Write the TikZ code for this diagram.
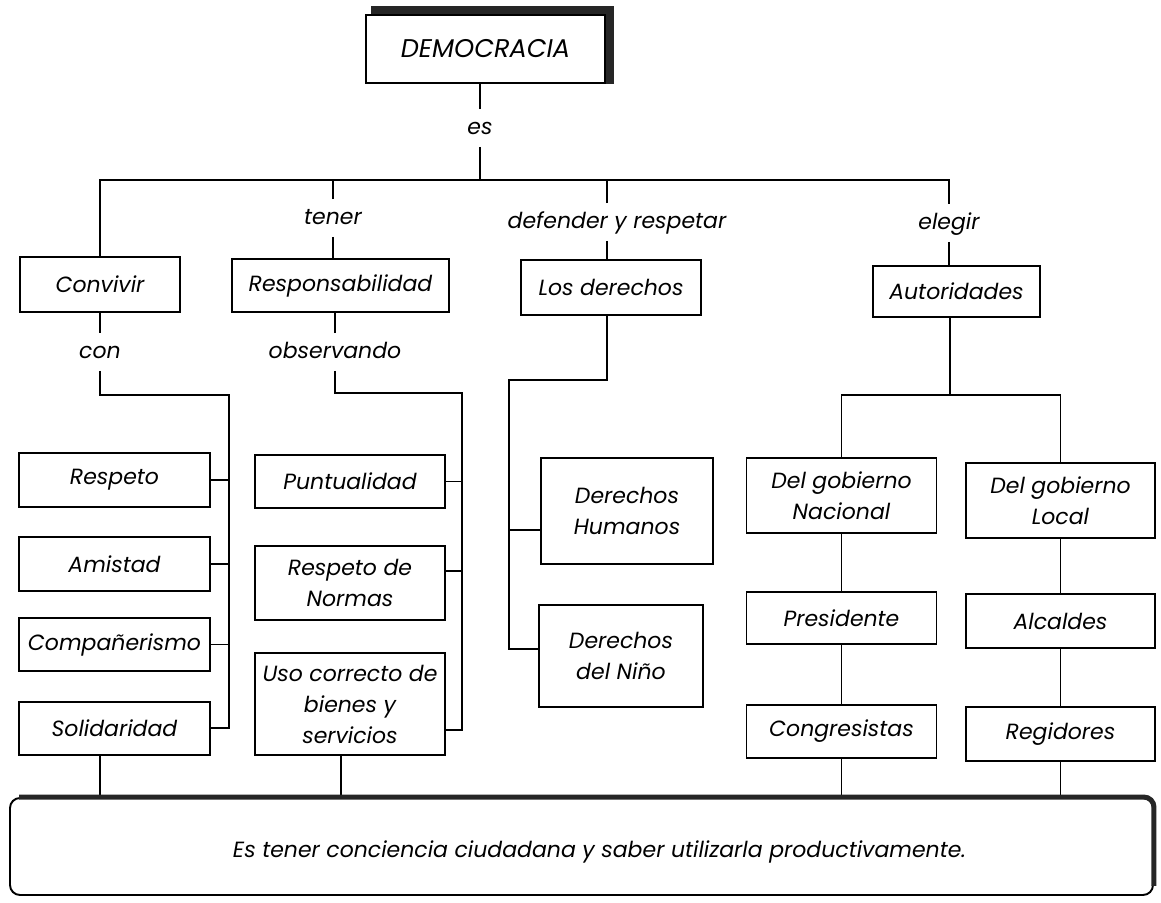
\documentclass[tikz,border=0pt]{standalone}
\usepackage{fontspec}
\setmainfont{Poppins}
\usetikzlibrary{calc}
\tikzset{%
  box/.style       = {shape=rectangle, draw, align=center,%
                      inner sep=2pt},%
  lbl/.style       = {inner sep=3.5pt, text height=1.6ex, text depth=.4ex},%
  thickedge/.style = {line width=4pt, black!85}%
}

\begin{document}
\begin{tikzpicture}[x=0.5pt,y=-0.5pt,
	every node/.style={font=\itshape\fontsize{11}{15.5}\selectfont},
	every path/.style={line width=0.95pt}]%
	\useasboundingbox (0,0) rectangle (1161,903);%
	% top and first row
	\node[box, minimum width=119.5pt, minimum height=34pt, font=\itshape\fontsize{12.8}{15}\selectfont] (demo) at (485.5,49) {DEMOCRACIA};%
	\node[lbl] (es) at (480,128) {es};%
	\coordinate (bar) at (480,180);%
	\node[lbl] (tener)  at (333,218) {tener};%
	\node[lbl] (defres) at (617,222) {defender y respetar};%
	\node[lbl] (elegir) at (949,223) {elegir};%
	\node[box, minimum width=80pt,   minimum height=27.5pt] (conv)   at (100,284.5)   {Convivir};%
	\node[box, minimum width=108.5pt,minimum height=26.5pt] (resp)   at (340.5,285.5) {Responsabilidad};%
	\node[box, minimum width=90pt,   minimum height=27.5pt] (losder) at (611,287.5)   {Los derechos};%
	\node[box, minimum width=83.5pt, minimum height=25.5pt] (autor)  at (956.5,291.5) {Autoridades};%
	\node[lbl] (con) at (100,352) {con};%
	\node[lbl] (obs) at (335,352) {observando};%
	% left column
	\node[box, minimum width=95.5pt, minimum height=27pt]   (respeto) at (114.5,480)   {Respeto};%
	\node[box, minimum width=95.5pt, minimum height=27pt]   (amistad) at (114.5,564)   {Amistad};%
	\node[box, minimum width=95.5pt, minimum height=26.5pt] (compa)   at (114.5,644.5) {Compañerismo};%
	\node[box, minimum width=95.5pt, minimum height=26.5pt] (solid)   at (114.5,728.5) {Solidaridad};%
	% second column
	\node[box, minimum width=95pt, minimum height=26.5pt] (puntual) at (350,481.5) {Puntualidad};%
	\node[box, minimum width=95pt, minimum height=37pt]   (normas)  at (350,583)   {Respeto de\\Normas};%
	\node[box, minimum width=95pt, minimum height=51pt]   (uso)     at (350,704)   {Uso correcto de\\bienes y\\servicios};%
	% rights
	\node[box, minimum width=86pt, minimum height=53pt] (dhum)  at (627,511) {Derechos\\Humanos};%
	\node[box, minimum width=82pt, minimum height=51pt] (dnino) at (621,656) {Derechos\\del Niño};%
	% authorities
	\node[box, minimum width=95pt,   minimum height=37.5pt] (nac)   at (841.5,495.5)  {Del gobierno\\Nacional};%
	\node[box, minimum width=94.5pt, minimum height=37.5pt] (local) at (1060.5,500.5) {Del gobierno\\Local};%
	\node[box, minimum width=95pt,   minimum height=26pt]   (pres)  at (841.5,618)    {Presidente};%
	\node[box, minimum width=94.5pt, minimum height=27pt]   (alcal) at (1060.5,621)   {Alcaldes};%
	\node[box, minimum width=95pt,   minimum height=26.5pt] (congr) at (841.5,731.5)  {Congresistas};%
	\node[box, minimum width=94.5pt, minimum height=27pt]   (regid) at (1060.5,734)   {Regidores};%
	% bottom
	\node[box, rounded corners=5pt, minimum width=571.5pt, minimum height=48.5pt] (final) at (581.5,846.5)%
		{\rule{0pt}{14pt}\hspace*{18pt}Es tener conciencia ciudadana y saber utilizarla productivamente.};%
	% bus points
	\coordinate (cbus) at (229,395);%
	\coordinate (cend) at (229,728);%
	\coordinate (rbus) at (462,393);%
	\coordinate (rend) at (462,730);%
	\coordinate (dbus) at (509,380);%
	\coordinate (dmid) at (509,530);%
	\coordinate (dend) at (509,649);%
	\coordinate (abus) at (950,395);%
	% links
	\draw (es.north) -- (es.north |- demo.south);%
	\draw (es.south) -- (bar);%
	\draw (conv.north) |- (bar) -| (elegir.north);%
	\draw (tener.north) -- (tener.north |- bar);%
	\draw (tener.south) -- (tener.south |- resp.north);%
	\draw ([xshift=-5pt]defres.north) -- ([xshift=-5pt]defres.north |- bar);%
	\draw ([xshift=-5pt]defres.south) -- ([xshift=-5pt]defres.south |- losder.north);%
	\draw (elegir.south) -- (elegir.south |- autor.north);%
	\draw (conv.south) -- (con.north);%
	\draw (con.south) |- (cbus) -- (cend) -- (cend -| solid.east);%
	\foreach \n in {respeto,amistad,compa}%
		\draw (\n.east) -- (\n.east -| cbus);%
	\draw (obs.north) -- (obs.north |- resp.south);%
	\draw (obs.south) |- (rbus) -- (rend) -- (rend -| uso.east);%
	\draw (puntual.east) -- (puntual.east -| rbus);%
	\draw ([yshift=6pt]normas.east) -- ([yshift=6pt]normas.east -| rbus);%
	\draw ([xshift=-2pt]losder.south) |- (dbus) -- (dend) -- (dend -| dnino.west);%
	\draw (dmid) -- (dmid -| dhum.west);%
	\draw (abus |- autor.south) -- (abus);%
	\draw (nac.north) |- (abus) -| (local.north);%
	\draw (nac.south) -- (pres.north) (pres.south) -- (congr.north);%
	\draw (local.south) -- (alcal.north) (alcal.south) -- (regid.north);%
	% down to the bottom box
	\draw (solid.south -| conv) -- (final.north -| conv);%
	\draw ([xshift=-4.5pt]uso.south) -- ([xshift=-4.5pt]uso.south |- final.north);%
	\draw (congr.south) -- (congr.south |- final.north);%
	\draw (regid.south) -- (regid.south |- final.north);%
	% dark edges
	\draw[thickedge] ([xshift=3pt,yshift=2pt]demo.north west) -- ([xshift=2pt,yshift=2pt]demo.north east) -- ([xshift=2pt]demo.south east);%
	\draw[thickedge, line width=2.5pt, rounded corners=5pt] ([xshift=5pt]final.north west) -- (final.north east) -- ([yshift=5pt]final.south east);%
\end{tikzpicture}
\end{document}
